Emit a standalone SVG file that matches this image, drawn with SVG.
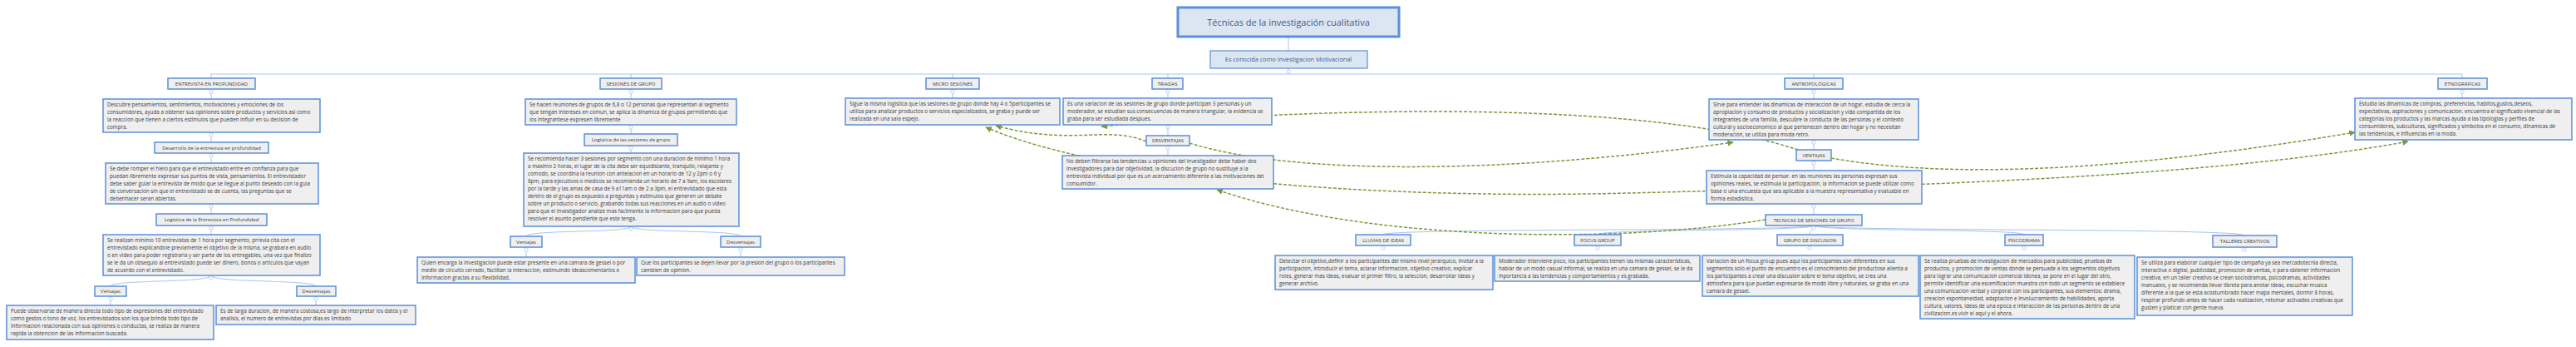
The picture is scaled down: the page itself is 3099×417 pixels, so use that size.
<svg xmlns="http://www.w3.org/2000/svg" width="3099" height="417" viewBox="0 0 3099 417">
<style>
.b{fill:#efefef;stroke:#5b8fd9;stroke-width:1.5}
.t{font-family:"Open Sans","Noto Sans",sans-serif;font-size:6.3px;fill:#3a3a3a}
.h{font-family:"Open Sans","Noto Sans",sans-serif;font-size:6px;fill:#3a3a3a;text-anchor:middle}
.c{fill:none;stroke:#a9c5ea;stroke-width:1}
.g{fill:none;stroke:#7a9a3a;stroke-width:1.5;stroke-dasharray:4 2}
.k{fill:#fff;stroke:#a9c5ea;stroke-width:0.8}
</style>
<defs>
<marker id="ar" viewBox="0 0 10 10" refX="9" refY="5" markerWidth="5" markerHeight="5" orient="auto-start-reverse"><path d="M0,0L10,5L0,10z" fill="#7a9a3a"/></marker>
</defs>
<rect width="3099" height="417" fill="#fff"/>
<g id="connectors">
<path class="c" d="M1550,44V61M1550,82V89M254,89H2962M254,89V94M759,89V94M1146,89V94M1405,89V94M2182,89V94M2962,89V94"/>
<path class="c" d="M254,107V119M254,159V171M254,184V196M254,245V257M254,271V282M254,331C254,340 133,336 133,344M254,331C254,340 380,336 380,344M133,356V367M380,356V367"/>
<path class="c" d="M759,107V119M759,150V161M759,175V184M759,272C759,280 633,276 633,284M759,272C759,280 891,276 891,284M633,297V309M891,297V309"/>
<path class="c" d="M1146,107V118M1405,107V118M1405,150V163M1405,175V187M2962,107V118"/>
<path class="c" d="M2182,107V119M2182,168V180M2182,193V205M2182,245V258M2182,271C2182,278 1664,274 1664,282M2182,271C2182,278 1922,275 1922,282M2182,271C2182,278 2177,276 2177,282M2182,271C2182,278 2435,275 2435,282M2182,271C2182,278 2700,274 2700,283"/>
<g>
<circle class="k" cx="254" cy="110" r="2.2"/><circle class="k" cx="254" cy="162" r="2.2"/><circle class="k" cx="254" cy="187" r="2.2"/><circle class="k" cx="254" cy="248" r="2.2"/><circle class="k" cx="254" cy="274" r="2.2"/><circle class="k" cx="254" cy="334" r="2.2"/><circle class="k" cx="133" cy="359" r="2.2"/><circle class="k" cx="380" cy="359" r="2.2"/>
<circle class="k" cx="759" cy="110" r="2.2"/><circle class="k" cx="759" cy="153" r="2.2"/><circle class="k" cx="759" cy="178" r="2.2"/><circle class="k" cx="759" cy="275" r="2.2"/><circle class="k" cx="633" cy="300" r="2.2"/><circle class="k" cx="891" cy="300" r="2.2"/>
<circle class="k" cx="1146" cy="110" r="2.2"/><circle class="k" cx="1405" cy="110" r="2.2"/><circle class="k" cx="1405" cy="153" r="2.2"/><circle class="k" cx="1405" cy="178" r="2.2"/>
<circle class="k" cx="2182" cy="110" r="2.2"/><circle class="k" cx="2182" cy="171" r="2.2"/><circle class="k" cx="2182" cy="196" r="2.2"/><circle class="k" cx="2182" cy="248" r="2.2"/><circle class="k" cx="2182" cy="274" r="2.2"/>
<circle class="k" cx="1664" cy="298" r="2.2"/><circle class="k" cx="1922" cy="298" r="2.2"/><circle class="k" cx="2177" cy="298" r="2.2"/><circle class="k" cx="2435" cy="298" r="2.2"/><circle class="k" cx="2700" cy="300" r="2.2"/><circle class="k" cx="2962" cy="110" r="2.2"/><circle class="k" cx="1550" cy="86" r="2.2"/>
</g>
<path class="g" marker-end="url(#ar)" d="M1379,170C1330,150 1290,176 1198,151"/>
<path class="g" marker-start="url(#ar)" marker-end="url(#ar)" d="M1186,153C1330,215 1650,240 1960,232S2650,215 2897,170"/>
<path class="g" marker-end="url(#ar)" d="M2163,180C1980,120 1600,128 1325,152"/>
<path class="g" marker-end="url(#ar)" d="M1431,172C1560,212 1820,208 2085,171"/>
<path class="g" marker-end="url(#ar)" d="M2203,190C2350,216 2560,205 2833,159"/>
<path class="g" marker-end="url(#ar)" d="M2124,264C1950,292 1650,292 1464,228"/>
</g>
<g id="title"><rect x="1417" y="9" width="266" height="35" fill="#dce6f2" stroke="#5b8fd9" stroke-width="3"/><text x="1550" y="30.5" text-anchor="middle" font-family="Open Sans,Noto Sans,sans-serif" font-size="11" fill="#3c5a85">Técnicas de la investigación cualitativa</text></g>
<g id="subtitle"><rect x="1456" y="61" width="189" height="21" fill="#dce6f2" stroke="#5b8fd9" stroke-width="1.2"/><text x="1550" y="74" text-anchor="middle" font-family="Open Sans,Noto Sans,sans-serif" font-size="7.3" fill="#3c5a85">Es conocida como Investigacion Motivacional</text></g>

<g id="e1"><rect class="b" x="202" y="94" width="105" height="13"/><text class="h" x="254.5" y="102.8">ENTREVISTA EN PROFUNDIDAD</text></g>
<g id="e2"><rect class="b" x="124" y="119" width="261" height="40"/><text class="t" x="129" y="128"><tspan x="129">Descubre pensamientos, sentimientos, motivaciones y emociones de los</tspan><tspan x="129" dy="9">consumidores, ayuda a obtener sus opiniones sobre productos y servicios asi como</tspan><tspan x="129" dy="9">la reaccion que tienen a ciertos estimulos que pueden influir en su decision de</tspan><tspan x="129" dy="9">compra.</tspan></text></g>
<g id="e3"><rect class="b" x="186" y="171" width="137" height="13"/><text class="h" x="254.5" y="179.8">Desarrollo de la entrevista en profundidad</text></g>
<g id="e4"><rect class="b" x="127" y="196" width="256" height="49"/><text class="t" y="205"><tspan x="132">Se debe romper el hielo para que el entrevistado entre en confianza para que</tspan><tspan x="132" dy="9">puedan libremente expresar sus puntos de vista, pensamientos. El entrevistador</tspan><tspan x="132" dy="9">debe saber guiar la entrevista de modo que se llegue al punto deseado con la guia</tspan><tspan x="132" dy="9">de conversacion sin que el entrevistado se de cuenta, las preguntas que se</tspan><tspan x="132" dy="9">debenhacer seran abiertas.</tspan></text></g>
<g id="e5"><rect class="b" x="188" y="257" width="133" height="14"/><text class="h" x="254.5" y="266.3">Logística de la Entrevista en Profundidad</text></g>
<g id="e6"><rect class="b" x="124" y="282" width="261" height="49"/><text class="t" y="291"><tspan x="129">Se realizan minimo 10 entrevistas de 1 hora por segmento, prrevia cita con el</tspan><tspan x="129" dy="9">entrevistado explicandole previamente el objetivo de la misma, se grabara en audio</tspan><tspan x="129" dy="9">o en video para poder registrarla y ser parte de los entregables, una vez que finalizo</tspan><tspan x="129" dy="9">se le da un obsequio al entrevistado puede ser dinero, bonos o articulos que vayan</tspan><tspan x="129" dy="9">de acuerdo con el entrevistado.</tspan></text></g>
<g id="e7"><rect class="b" x="114" y="344" width="38" height="12"/><text class="h" x="133" y="352.3">Ventajas</text></g>
<g id="e8"><rect class="b" x="357" y="344" width="47" height="12"/><text class="h" x="380.5" y="352.3">Desventajas</text></g>
<g id="e9"><rect class="b" x="8" y="367" width="249" height="41"/><text class="t" y="376"><tspan x="13">Puede observarse de manera directa todo tipo de expresiones del entrevistado</tspan><tspan x="13" dy="9">como gestos o tono de voz, los entrevistados son los que brinda todo tipo de</tspan><tspan x="13" dy="9">informacion relacionada con sus opiniones o conductas, se realiza de manera</tspan><tspan x="13" dy="9">rapida la obtencion de las informacion buscada.</tspan></text></g>
<g id="e10"><rect class="b" x="260" y="367" width="240" height="23"/><text class="t" y="376"><tspan x="265">Es de larga duracion, de manera costosa,es largo de interpretar los datos y el</tspan><tspan x="265" dy="9">analisis, el numero de entrevistas por dias es limitado</tspan></text></g>

<g id="s1"><rect class="b" x="722" y="94" width="74" height="13"/><text class="h" x="759" y="102.8">SESIONES DE GRUPO</text></g>
<g id="s2"><rect class="b" x="632" y="119" width="254" height="31"/><text class="t" y="128"><tspan x="637">Se hacen reuniones de grupos de 6,8 o 12 personas que representan al segmento</tspan><tspan x="637" dy="9">que tengan intereses en comun, se aplica la dinamica de grupos permitiendo que</tspan><tspan x="637" dy="9">los integrantese expresen libremente</tspan></text></g>
<g id="s3"><rect class="b" x="703" y="161" width="112" height="14"/><text class="h" x="759" y="170.3">Logística de las sesiones de grupo</text></g>
<g id="s4"><rect class="b" x="630" y="184" width="259" height="88"/><text class="t" y="193"><tspan x="635">Se recomienda hacer 3 sesiones por segmento con una duracion de minimo 1 hora</tspan><tspan x="635" dy="9">a maximo 2 horas, el lugar de la cita debe ser equidistante, tranquilo, relajante y</tspan><tspan x="635" dy="9">comodo, se coordina la reunion con antelacion en un horario de 12 y 2pm o 6 y</tspan><tspan x="635" dy="9">8pm, para ejecutivos o medicos se recomienda un horario de 7 a 9am, los escolares</tspan><tspan x="635" dy="9">por la tarde y las amas de casa de 9 a11am o de 2 a 3pm, el entrevistado que esta</tspan><tspan x="635" dy="9">dentro de el grupo es expuesto a preguntas y estimulos que generen un debate</tspan><tspan x="635" dy="9">sobre un producto o servicio, grabando todas sus reacciones en un audio o video</tspan><tspan x="635" dy="9">para que el investigador analize mas facilmente la informacion para que pueda</tspan><tspan x="635" dy="9">resolver el asunto pendiente que este tenga.</tspan></text></g>
<g id="s5"><rect class="b" x="614" y="284" width="38" height="13"/><text class="h" x="633" y="292.8">Ventajas</text></g>
<g id="s6"><rect class="b" x="867" y="284" width="48" height="13"/><text class="h" x="891" y="292.8">Desventajas</text></g>
<g id="s7"><rect class="b" x="502" y="309" width="262" height="31"/><text class="t" y="318"><tspan x="507">Quien encarga la investigacion puede estar presente en una camara de gessel o por</tspan><tspan x="507" dy="9">medio de circuito cerrado, facilitan la interaccion, estimulndo ideascomentarios e</tspan><tspan x="507" dy="9">informacion gracias a su flexibilidad.</tspan></text></g>
<g id="s8"><rect class="b" x="766" y="309" width="250" height="22"/><text class="t" y="318"><tspan x="771">Que los participantes se dejen llevar por la presion del grupo o los participantes</tspan><tspan x="771" dy="9">cambien de opinion.</tspan></text></g>

<g id="m1"><rect class="b" x="1114" y="94" width="64" height="13"/><text class="h" x="1146" y="102.8">MICRO SESIONES</text></g>
<g id="m2"><rect class="b" x="1017" y="118" width="258" height="32"/><text class="t" y="127"><tspan x="1022">Sigue la misma logistica que las sesiones de grupo donde hay 4 o 5participantes se</tspan><tspan x="1022" dy="9">utiliza para analizar productos o servicios especializados, se graba y puede ser</tspan><tspan x="1022" dy="9">realizada en una sala espejo.</tspan></text></g>

<g id="t1"><rect class="b" x="1386" y="94" width="37" height="13"/><text class="h" x="1404.5" y="102.8">TRIADAS</text></g>
<g id="t2"><rect class="b" x="1279" y="118" width="251" height="32"/><text class="t" y="127"><tspan x="1284">Es una variacion de las sesiones de grupo  donde participan 3 personas y un</tspan><tspan x="1284" dy="9">moderador, se estudian sus consecuencias de manera triangular, la evidencia se</tspan><tspan x="1284" dy="9">graba para ser estudiada despues.</tspan></text></g>
<g id="t3"><rect class="b" x="1379" y="163" width="52" height="12"/><text class="h" x="1405" y="171.3">DESVENTAJAS</text></g>
<g id="t4"><rect class="b" x="1278" y="187" width="254" height="40"/><text class="t" y="196"><tspan x="1283">No deben filtrarse las tendencias u opiniones del investigador debe haber dos</tspan><tspan x="1283" dy="9">investigadores para dar objetividad, la discucion de grupo no sustituye a la</tspan><tspan x="1283" dy="9">entrevista individual por que es un acercamiento diferente a las motivaciones del</tspan><tspan x="1283" dy="9">consumidor.</tspan></text></g>

<g id="a1"><rect class="b" x="2147" y="94" width="70" height="13"/><text class="h" x="2182" y="102.8">ANTROPOLÓGICAS</text></g>
<g id="a2"><rect class="b" x="2056" y="119" width="252" height="49"/><text class="t" y="128"><tspan x="2061">Sirve para entender las dinamicas de interaccion de un hogar, estudia de cerca la</tspan><tspan x="2061" dy="9">apropiacion y consumo de productos y socializacion y vida compartida de los</tspan><tspan x="2061" dy="9">integrantes de una familia, descubre la conducta de las personas y el contexto</tspan><tspan x="2061" dy="9">cultural y socioeconomico al que pertenecen dentro del hogar y no necesitan</tspan><tspan x="2061" dy="9">moderacion, se utiliza para moda retro.</tspan></text></g>
<g id="a3"><rect class="b" x="2161" y="180" width="42" height="13"/><text class="h" x="2182" y="188.8">VENTAJAS</text></g>
<g id="a4"><rect class="b" x="2053" y="205" width="259" height="40"/><text class="t" y="214"><tspan x="2058">Estimula la capacidad de pensar. en las reuniones las personas expresan sus</tspan><tspan x="2058" dy="9">opiniones reales, se estimula la participacion, la informacion se puede utilizar como</tspan><tspan x="2058" dy="9">base o una encuesta que sea aplicable a la muestra representativa y evaluable en</tspan><tspan x="2058" dy="9">forma estadistica.</tspan></text></g>
<g id="a5"><rect class="b" x="2124" y="258" width="116" height="13"/><text class="h" x="2182" y="266.8">TECNICAS DE SESIONES DE GRUPO</text></g>

<g id="l1"><rect class="b" x="1631" y="282" width="66" height="13"/><text class="h" x="1664" y="290.8">LLUVIAS DE IDEAS</text></g>
<g id="l2"><rect class="b" x="1534" y="307" width="262" height="41"/><text class="t" y="316"><tspan x="1539">Detectar el objetivo,definir a los participantes del mismo nivel jerarquico, invitar a la</tspan><tspan x="1539" dy="9">participacion, introducir el tema, aclarar informacion, objetivo creativo, explicar</tspan><tspan x="1539" dy="9">roles, generar mas ideas, evaluar el primer filtro, la seleccion, desarrollar ideas y</tspan><tspan x="1539" dy="9">generar archivo.</tspan></text></g>
<g id="f1"><rect class="b" x="1894" y="282" width="56" height="13"/><text class="h" x="1922" y="290.8">FOCUS GROUP</text></g>
<g id="f2"><rect class="b" x="1798" y="307" width="247" height="31"/><text class="t" y="316"><tspan x="1803">Moderador interviene poco, los participantes tienen las mismas caracteristicas,</tspan><tspan x="1803" dy="9">hablar de un modo casual informal, se realiza en una camara de gessel, se le da</tspan><tspan x="1803" dy="9">inportancia a las tendencias y comportamientos y es grabada.</tspan></text></g>
<g id="g1"><rect class="b" x="2138" y="282" width="79" height="13"/><text class="h" x="2177.5" y="290.8">GRUPO DE DISCUSION</text></g>
<g id="g2"><rect class="b" x="2048" y="307" width="260" height="49"/><text class="t" y="316"><tspan x="2053">Variacion de un focus group pues aqui los participantes son diferentes en sus</tspan><tspan x="2053" dy="9">segmentos solo el punto de encuentro es el conocimiento del productose alienta a</tspan><tspan x="2053" dy="9">los participantes a crear una discusion sobre el tema objetivo, se crea una</tspan><tspan x="2053" dy="9">atmosfera para que puedan expresarse de modo libre y naturales, se graba en una</tspan><tspan x="2053" dy="9">camara de gessel.</tspan></text></g>
<g id="p1"><rect class="b" x="2412" y="282" width="46" height="13"/><text class="h" x="2435" y="290.8">PSICODRAMA</text></g>
<g id="p2"><rect class="b" x="2310" y="307" width="258" height="76"/><text class="t" y="316"><tspan x="2315">Se realiza pruebas de investigacion de mercados para publicidad, pruebas de</tspan><tspan x="2315" dy="9">productos, y promocion de ventas donde se persuade a los segmentos objetivos</tspan><tspan x="2315" dy="9">para lograr una comunicacion comercial idonea, se pone en el lugar del otro,</tspan><tspan x="2315" dy="9">permite identificar una escenificacion muestra con todo un segmento se establece</tspan><tspan x="2315" dy="9">una comunicacion verbal y corporal con los participantes, sus elementos: drama,</tspan><tspan x="2315" dy="9">creacion espontaneidad, adaptacion e involucramiento de habilidades, aporta</tspan><tspan x="2315" dy="9">cultura, valores, ideas de una epoca e interaccion de las personas dentro de una</tspan><tspan x="2315" dy="9">civilizacion.es vivir el aqui y el ahora.</tspan></text></g>
<g id="tc1"><rect class="b" x="2662" y="283" width="77" height="14"/><text class="h" x="2700.5" y="292.3">TALLERES CREATIVOS</text></g>
<g id="tc2"><rect class="b" x="2571" y="309" width="259" height="70"/><text class="t" y="318"><tspan x="2576">Se utiliza para elaborar cualquier tipo de campaña ya sea mercadotecnia directa,</tspan><tspan x="2576" dy="9">interactiva o digital, publicidad, promocion de ventas, o para obtener informacion</tspan><tspan x="2576" dy="9">creativa, en un taller creativo se crean sociodramas, psicodramas, actividades</tspan><tspan x="2576" dy="9">manuales, y se recomienda llevar libreta para anotar ideas, escuchar musica</tspan><tspan x="2576" dy="9">diferente a la que se esta acostumbrado hacer mapa mentales, dormir 8 horas,</tspan><tspan x="2576" dy="9">respirar profundo antes de hacer cada realizacion, retomar activades creativas que</tspan><tspan x="2576" dy="9">gusten y platicar con gente nueva.</tspan></text></g>

<g id="et1"><rect class="b" x="2933" y="94" width="59" height="13"/><text class="h" x="2962.5" y="102.8">ETNOGRÁFICAS</text></g>
<g id="et2"><rect class="b" x="2833" y="118" width="261" height="50"/><text class="t" y="127"><tspan x="2838">Estudia las dinamicas de compras, preferencias, habitos,gustos,deseos,</tspan><tspan x="2838" dy="9">expectativas, aspiraciones y comunicacion. encuentra el significado vivencial de las</tspan><tspan x="2838" dy="9">categorias los productos y las marcas ayuda a las tipologias y perfiles de</tspan><tspan x="2838" dy="9">consumidores, subculturas, significados y simbolos en el consumo, dinamicas de</tspan><tspan x="2838" dy="9">las tendencias, e influencias en la moda.</tspan></text></g>
</svg>
